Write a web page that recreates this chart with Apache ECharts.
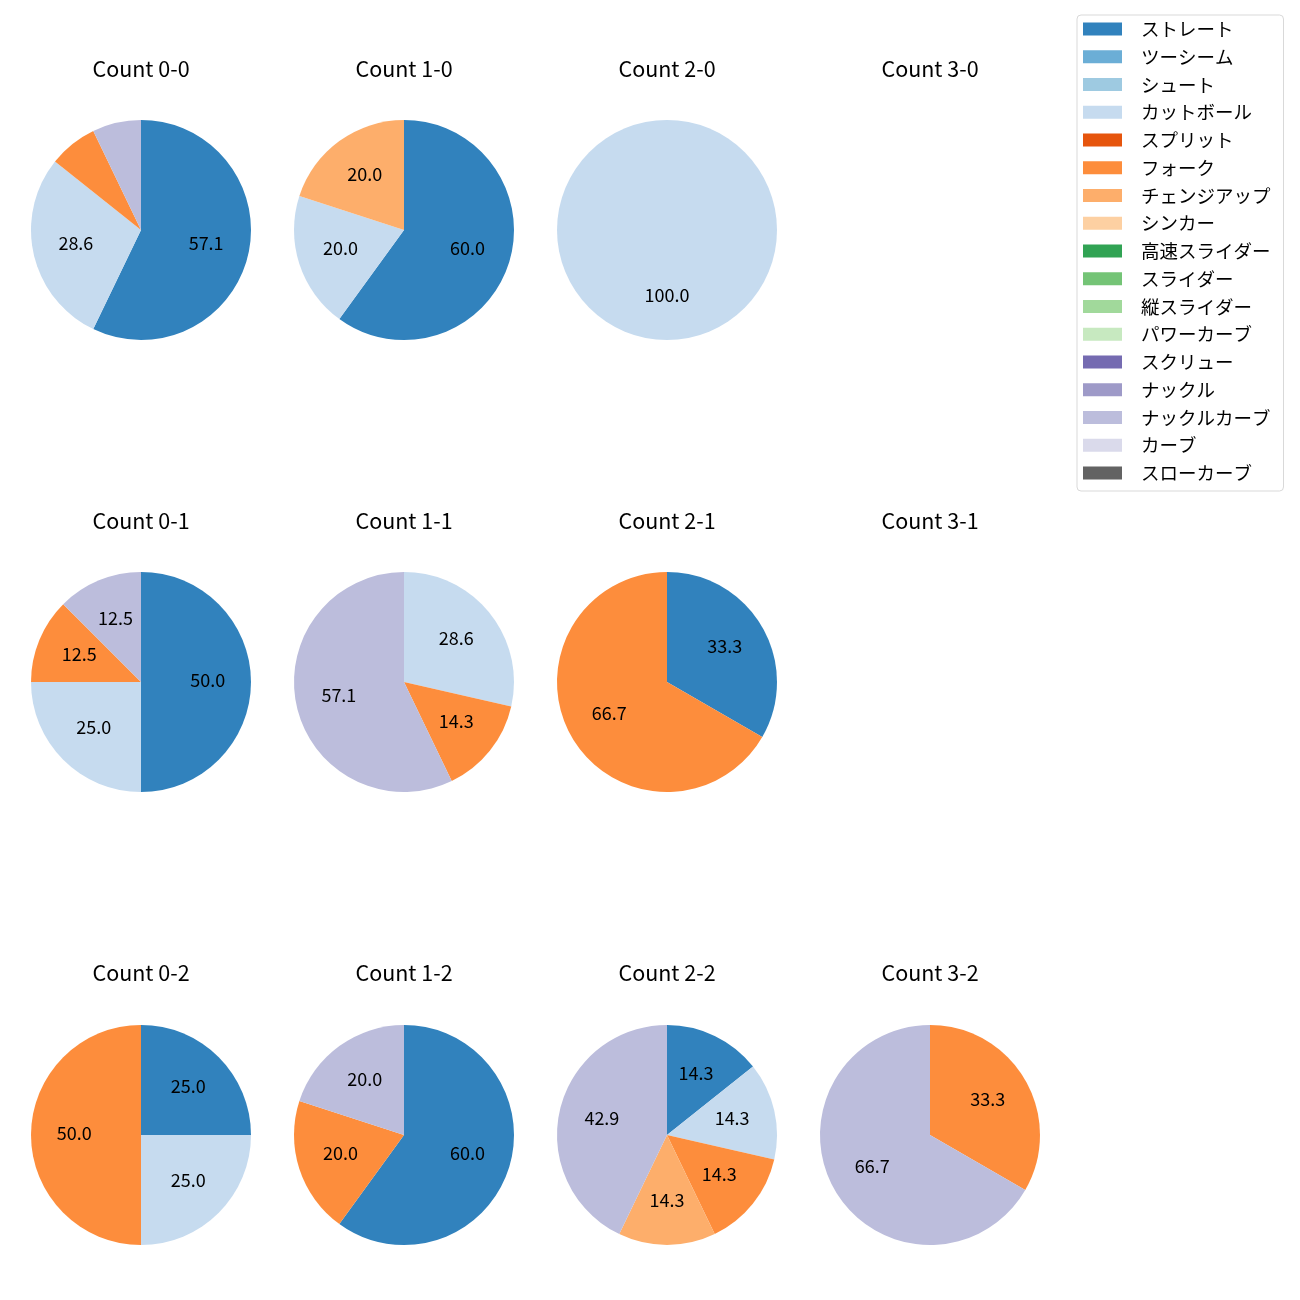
<!DOCTYPE html>
<html>
<head>
<meta charset="utf-8">
<script src="https://cdn.jsdelivr.net/npm/echarts@6/dist/echarts.min.js"></script>
<style>html,body{margin:0;padding:0;background:#fff;}#chart{width:1300px;height:1300px;}</style>
</head>
<body>
<div id="chart"></div>
<script>
const pitchTypes = ['ストレート','ツーシーム','シュート','カットボール','スプリット','フォーク','チェンジアップ','シンカー','高速スライダー','スライダー','縦スライダー','パワーカーブ','スクリュー','ナックル','ナックルカーブ','カーブ','スローカーブ'];
const pitchColors = ['#3182bd','#6baed6','#9ecae1','#c6dbef','#e6550d','#fd8d3c','#fdae6b','#fdd0a2','#31a354','#74c476','#a1d99b','#c7e9c0','#756bb1','#9e9ac8','#bcbddc','#dadaeb','#636363'];
const countTitles = ['Count 0-0','Count 1-0','Count 2-0','Count 3-0','Count 0-1','Count 1-1','Count 2-1','Count 3-1','Count 0-2','Count 1-2','Count 2-2','Count 3-2'];
//                ストレ ツー シュ カット スプ フォ チェ シン 高速 スラ 縦 パワ スク ナッ ナカ カー スロ
const count00 = [8,0,0,4,0,1,0,0,0,0,0,0,0,0,1,0,0];
const count10 = [3,0,0,1,0,0,1,0,0,0,0,0,0,0,0,0,0];
const count20 = [0,0,0,1,0,0,0,0,0,0,0,0,0,0,0,0,0];
const count30 = [0,0,0,0,0,0,0,0,0,0,0,0,0,0,0,0,0];
const count01 = [4,0,0,2,0,1,0,0,0,0,0,0,0,0,1,0,0];
const count11 = [0,0,0,2,0,1,0,0,0,0,0,0,0,0,4,0,0];
const count21 = [1,0,0,0,0,2,0,0,0,0,0,0,0,0,0,0,0];
const count31 = [0,0,0,0,0,0,0,0,0,0,0,0,0,0,0,0,0];
const count02 = [1,0,0,1,0,2,0,0,0,0,0,0,0,0,0,0,0];
const count12 = [3,0,0,0,0,1,0,0,0,0,0,0,0,0,1,0,0];
const count22 = [1,0,0,1,0,1,1,0,0,0,0,0,0,0,3,0,0];
const count32 = [0,0,0,0,0,1,0,0,0,0,0,0,0,0,2,0,0];
const countValues = [count00,count10,count20,count30,count01,count11,count21,count31,count02,count12,count22,count32];

const FONT = '"Noto Sans CJK JP", "Noto Sans", sans-serif';
const colX = [141, 404, 667, 930];
const rowY = [230, 682, 1135];
const titleY = [58, 510, 962];
const R = 110;

const titles = [];
const mainSeries = [];
const labelSeries = [];
countTitles.forEach(function (t, i) {
  const c = i % 4, r = Math.floor(i / 4);
  titles.push({
    text: t, left: colX[c], top: titleY[r], textAlign: 'center', padding: 0,
    textStyle: {fontFamily: FONT, fontSize: 21.5, fontWeight: 'normal', color: '#000'}
  });
  const vals = countValues[i];
  const total = vals.reduce(function (a, b) { return a + b; }, 0);
  if (total === 0) return;
  const data = pitchTypes.map(function (name, k) {
    return {name: name, value: vals[k], itemStyle: {color: pitchColors[k]}};
  });
  mainSeries.push({
    type: 'pie', center: [colX[c], rowY[r]], radius: [0, R], startAngle: 90, clockwise: true,
    silent: true, animation: false, label: {show: false}, labelLine: {show: false},
    itemStyle: {borderWidth: 0}, showEmptyCircle: false, stillShowZeroSum: false,
    data: data
  });
  labelSeries.push({
    type: 'pie', center: [colX[c], rowY[r] - 2], radius: [0.16 * R, R], startAngle: 90, clockwise: true,
    silent: true, animation: false, avoidLabelOverlap: false, labelLine: {show: false},
    itemStyle: {color: 'rgba(0,0,0,0)', borderWidth: 0}, showEmptyCircle: false,
    label: {
      show: true, position: 'inside', color: '#000', fontFamily: FONT, fontSize: 18,
      formatter: function (p) {
        const pct = p.value / total * 100;
        return pct >= 10 ? pct.toFixed(1) : '';
      }
    },
    data: pitchTypes.map(function (name, k) { return {name: name, value: vals[k]}; })
  });
});

const chart = echarts.init(document.getElementById('chart'));
chart.setOption({
  backgroundColor: '#fff',
  animation: false,
  title: titles,
  legend: {
    orient: 'vertical', left: 1077, top: 15, data: pitchTypes, icon: 'rect',
    itemWidth: 39, itemHeight: 13, itemGap: 7.75, selectedMode: false,
    padding: [4, 13, 8, 6], borderColor: '#d9d9d9', borderWidth: 1, borderRadius: 4,
    textStyle: {fontFamily: FONT, fontSize: 18.5, color: '#000', lineHeight: 20, padding: [0, 0, 0, 14]}
  },
  series: mainSeries.concat(labelSeries)
});
</script>
</body>
</html>
